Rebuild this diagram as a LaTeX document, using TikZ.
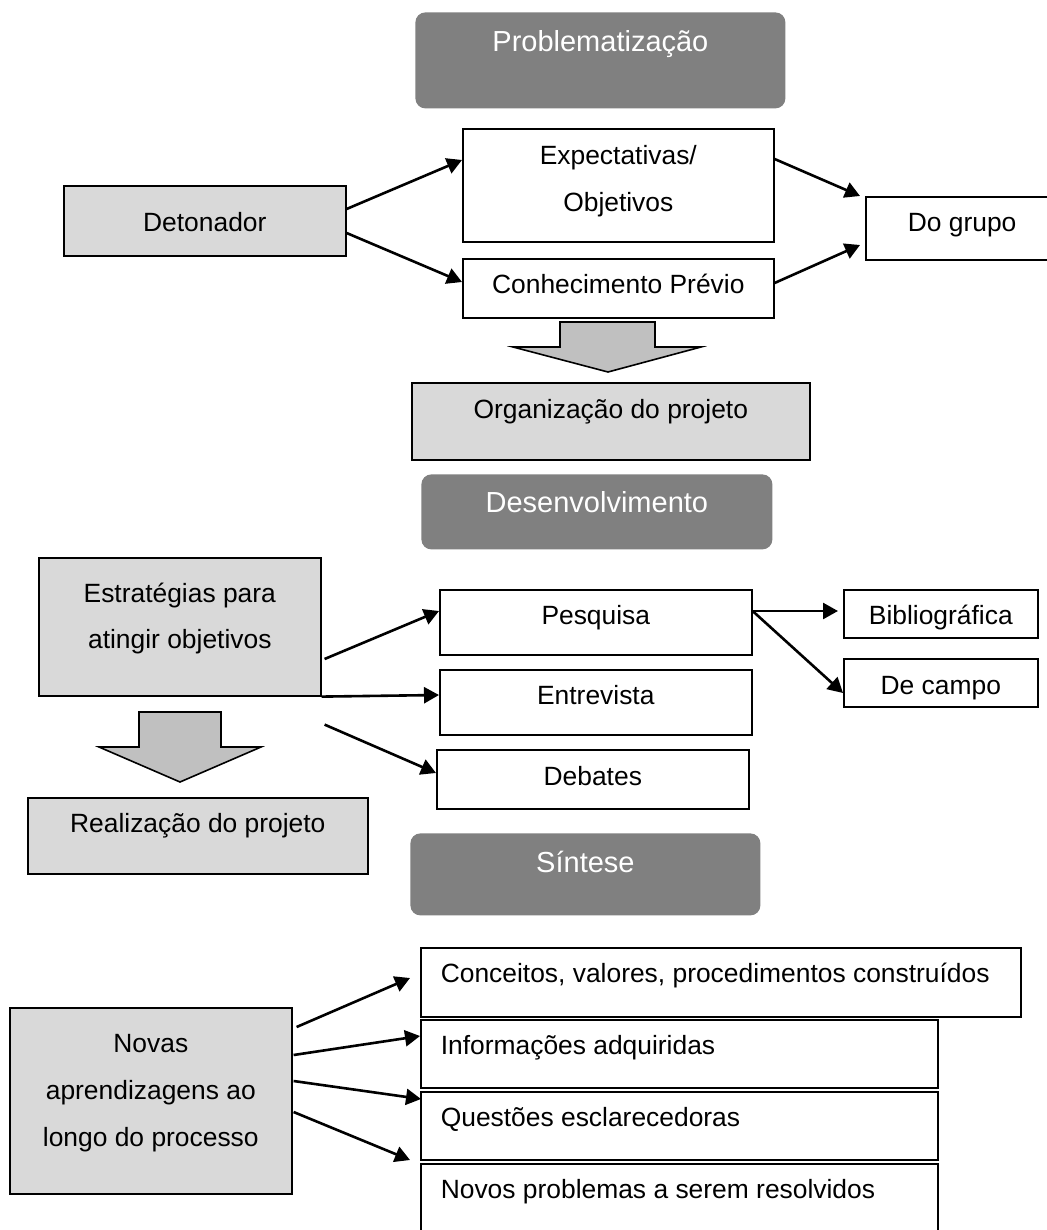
\documentclass[tikz,border=0pt]{standalone}
\usepackage{fontspec}
\setmainfont{Liberation Sans}
\usepackage{tikz}
\usetikzlibrary{arrows.meta,calc}

\definecolor{phasegray}{HTML}{808080}
\definecolor{boxgray}{HTML}{D9D9D9}
\definecolor{arrowgray}{HTML}{C0C0C0}

\tikzset{
    every node/.style={font=\fontsize{13.2}{15.8}\selectfont, inner sep=0pt},
    box/.style={draw, line width=0.8pt, anchor=north west},
    graybox/.style={box, fill=boxgray},
    phase/.style={anchor=north west, fill=phasegray, rounded corners=5pt, text=white, font=\fontsize{14.5}{17}\selectfont},
    arr/.style={line width=1.3pt, -{Triangle[length=7.5pt,width=8pt]}},
    bigarrow/.style={draw, line width=0.8pt, fill=arrowgray}
}

\begin{document}
\begin{tikzpicture}[x=0.5pt, y=-0.5pt]
                \path[use as bounding box, fill=white] (0,0) rectangle (1047,1230);
                \node [phase, minimum width=185pt, text height=19.5pt, text depth=28.5pt] (prob) at (415,12) {Problematização};
                \node [box, minimum width=155.5pt, text height=18pt, text depth=38.5pt] (exp) at (462,128) {\begin{tabular}[t]{@{}c@{}}Expectativas/\\[7.7pt]Objetivos\end{tabular}};
                \node [graybox, minimum width=141pt, text height=23pt, text depth=12pt] (det) at (63,185) {Detonador};
                \node [box, minimum width=120pt, text height=17.5pt, text depth=14pt] (grp) at (865,196) {\makebox[120pt][l]{\hspace{21pt}Do grupo}};
                \node [box, minimum width=155.5pt, text height=17.5pt, text depth=12pt] (con) at (462,258) {Conhecimento Prévio};
                \node [graybox, minimum width=199pt, text height=18pt, text depth=20.5pt] (org) at (411,382) {Organização do projeto};
                \node [phase, minimum width=175.5pt, text height=19pt, text depth=18.5pt] (des) at (421,474) {Desenvolvimento};
                \node [graybox, minimum width=141pt, text height=22.5pt, text depth=46.5pt] (est) at (38,557) {\begin{tabular}[t]{@{}c@{}}Estratégias para\\[7.2pt]atingir objetivos\end{tabular}};
                \node [box, minimum width=156pt, text height=17.5pt, text depth=15pt] (pes) at (439,589) {Pesquisa};
                \node [box, minimum width=156pt, text height=17.5pt, text depth=15pt] (ent) at (439,669) {Entrevista};
                \node [box, minimum width=156pt, text height=18pt, text depth=11.5pt] (deb) at (436,749) {Debates};
                \node [box, minimum width=97pt, text height=17.5pt, text depth=6.5pt] (bib) at (843,589) {Bibliográfica};
                \node [box, minimum width=97pt, text height=18pt, text depth=6pt] (dca) at (843,658) {De campo};
                \node [graybox, minimum width=170pt, text height=17.5pt, text depth=20.5pt] (rea) at (27,797) {Realização do projeto};
                \node [phase, minimum width=175pt, text height=19.5pt, text depth=21.5pt] (sin) at (410,833) {Síntese};
                \node [graybox, minimum width=141pt, text height=22.5pt, text depth=70.5pt] (apr) at (9,1007) {\begin{tabular}[t]{@{}c@{}}Novas\\[7.5pt]aprendizagens ao\\[7.5pt]longo do processo\end{tabular}};
                \node [box, minimum width=300pt, text height=17.5pt, text depth=17pt] (conc) at (420,947) {\makebox[280pt][l]{Conceitos, valores, procedimentos construídos}};
                \node [box, minimum width=258.5pt, text height=17.5pt, text depth=16.5pt] (inf) at (420,1019) {\makebox[238.5pt][l]{Informações adquiridas}};
                \node [box, minimum width=258.5pt, text height=17.5pt, text depth=16.5pt] (que) at (420,1091) {\makebox[238.5pt][l]{Questões esclarecedoras}};
                \node [box, minimum width=258.5pt, text height=17.5pt, text depth=30pt] (nov) at (420,1163) {\makebox[238.5pt][l]{Novos problemas a serem resolvidos}};
                \draw [arr] ($(det.north east)+(0,24)$) -- ($(exp.north west)+(0,32)$);
                \draw [arr] ($(det.north east)+(0,48)$) -- ($(con.north west)+(0,24)$);
                \draw [arr] ($(exp.north east)+(0,31)$) -- ($(grp.north west)+(-5,0)$);
                \draw [arr] ($(con.north east)+(0,25)$) -- ($(grp.north west)+(-5,49)$);
                \draw [bigarrow] (560,322) -- (655,322) -- (655,347) -- (701,347) -- (608,372) -- (513,347) -- (560,347) -- cycle;
                \draw [arr] ($(est.north east)+(3,102)$) -- ($(pes.north west)+(0,22)$);
                \draw [arr] (est.south east) -- ($(ent.north west)+(0,26)$);
                \draw [arr] ($(est.south east)+(3,28)$) -- ($(deb.north west)+(0,24)$);
                \draw [arr] ($(pes.north east)+(0,22)$) -- ($(bib.north west)+(-5,22)$);
                \draw [arr] ($(pes.north east)+(0,22)$) -- ($(dca.north west)+(0,35)$);
                \draw [bigarrow] (139,712) -- (221,712) -- (221,747) -- (261,747) -- (180,782) -- (99,747) -- (139,747) -- cycle;
                \draw [arr] ($(apr.north east)+(4,20)$) -- ($(conc.north west)+(-10,31)$);
                \draw [arr] ($(apr.north east)+(1,48)$) -- ($(inf.north west)+(0,17)$);
                \draw [arr] ($(apr.north east)+(1,74)$) -- ($(que.north west)+(1,8)$);
                \draw [arr] ($(apr.north east)+(1,105)$) -- ($(nov.north west)+(-10,-3)$);
            \end{tikzpicture}
\end{document}
